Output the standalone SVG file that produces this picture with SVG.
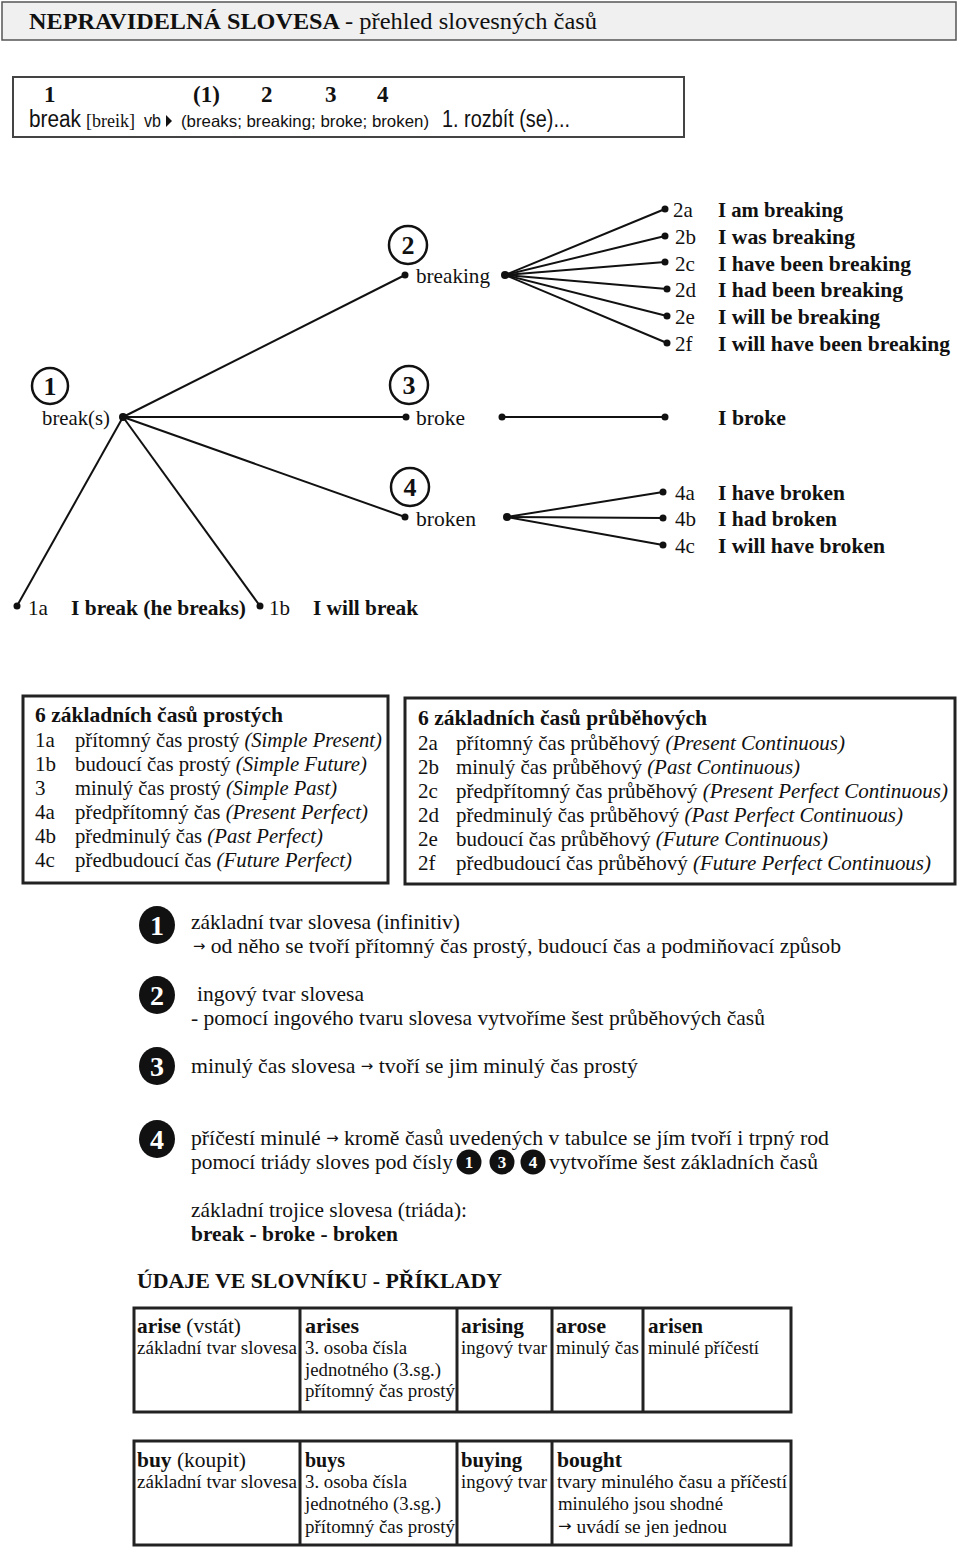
<svg xmlns="http://www.w3.org/2000/svg" width="960" height="1549" viewBox="0 0 960 1549">
<defs>
<style>
text{font-family:"Liberation Serif","Times New Roman",serif;fill:#111}
.sans{font-family:"Liberation Sans",Arial,sans-serif}
.ar{font-family:"DejaVu Sans",sans-serif;font-size:15px}
.b{font-weight:bold}
.i{font-style:italic}
.t20{font-size:21px}
.t22{font-size:22px}
.t21{font-size:21px}
.t17{font-size:18px}
.num{font-size:26px;font-weight:bold;text-anchor:middle}
.wnum{font-size:28px;font-weight:bold;text-anchor:middle;fill:#fff}
.snum{font-size:17px;font-weight:bold;text-anchor:middle;fill:#fff}
.ring{fill:#fff;stroke:#111;stroke-width:2.5}
.blk{fill:#111}
.ln{stroke:#111;stroke-width:2;fill:none}
.dot{fill:#111}
.box{fill:#fff;stroke:#222;stroke-width:3}
</style>
</defs>
<rect width="960" height="1549" fill="#fff"/>

<g id="title">
<rect x="2" y="2" width="954" height="38" fill="#f0f0f0" stroke="#555" stroke-width="1.5"/>
<text x="29" y="29" class="b" font-size="24" textLength="311" lengthAdjust="spacingAndGlyphs">NEPRAVIDELNÁ SLOVESA</text>
<text x="345" y="29" font-size="24" textLength="252" lengthAdjust="spacingAndGlyphs">- přehled slovesných časů</text>
</g>

<g id="dictionary-entry">
<rect x="13" y="77" width="671" height="60" fill="#fff" stroke="#444" stroke-width="2"/>
<text x="44" y="102" class="b" font-size="23">1</text>
<text x="193" y="102" class="b" font-size="23">(1)</text>
<text x="261" y="102" class="b" font-size="23">2</text>
<text x="325" y="102" class="b" font-size="23">3</text>
<text x="377" y="102" class="b" font-size="23">4</text>
<text x="29" y="127" class="sans" font-size="23" textLength="52" lengthAdjust="spacingAndGlyphs">break</text>
<text x="86" y="127" font-size="19" textLength="49" lengthAdjust="spacingAndGlyphs">[breik]</text>
<text x="144" y="127" class="sans" font-size="19" textLength="17" lengthAdjust="spacingAndGlyphs">vb</text>
<polygon points="166,115 172,121 166,127" fill="#111"/>
<text x="181" y="127" class="sans" font-size="16.5" textLength="248" lengthAdjust="spacingAndGlyphs">(breaks; breaking; broke; broken)</text>
<text x="442" y="127" class="sans" font-size="23" textLength="128" lengthAdjust="spacingAndGlyphs">1. rozbít (se)...</text>
</g>

<g id="connectors">
<line class="ln" x1="123" y1="417" x2="405" y2="275"/>
<line class="ln" x1="123" y1="417" x2="406" y2="417"/>
<line class="ln" x1="123" y1="417" x2="405" y2="517"/>
<line class="ln" x1="123" y1="417" x2="17" y2="606"/>
<line class="ln" x1="123" y1="417" x2="260" y2="606"/>
<line class="ln" x1="505" y1="275" x2="665" y2="209"/>
<line class="ln" x1="505" y1="275" x2="665" y2="236"/>
<line class="ln" x1="505" y1="275" x2="665" y2="262"/>
<line class="ln" x1="505" y1="275" x2="667" y2="289"/>
<line class="ln" x1="505" y1="275" x2="667" y2="316"/>
<line class="ln" x1="505" y1="275" x2="667" y2="343"/>
<line class="ln" x1="502" y1="417" x2="665" y2="417"/>
<line class="ln" x1="507" y1="517" x2="663" y2="492"/>
<line class="ln" x1="507" y1="517" x2="663" y2="518"/>
<line class="ln" x1="507" y1="517" x2="663" y2="545"/>
</g>

<g id="node-1">
<circle class="ring" cx="50" cy="386" r="18"/>
<text x="50" y="395" class="num">1</text>
<text x="42" y="425" class="t22" textLength="68" lengthAdjust="spacingAndGlyphs">break(s)</text>
<circle class="dot" cx="123" cy="417" r="4"/>
</g>
<g id="node-2">
<circle class="ring" cx="408" cy="245" r="19"/>
<text x="408" y="254" class="num">2</text>
<circle class="dot" cx="405" cy="275" r="3.5"/>
<text x="416" y="283" class="t22" textLength="74" lengthAdjust="spacingAndGlyphs">breaking</text>
<circle class="dot" cx="505" cy="275" r="4"/>
</g>
<g id="node-3">
<circle class="ring" cx="409" cy="385" r="19"/>
<text x="409" y="394" class="num">3</text>
<circle class="dot" cx="406" cy="417" r="3.5"/>
<text x="416" y="425" class="t22" textLength="49" lengthAdjust="spacingAndGlyphs">broke</text>
<circle class="dot" cx="502" cy="417" r="3.5"/>
</g>
<g id="node-4">
<ellipse class="ring" cx="410" cy="487" rx="19" ry="19"/>
<text x="410" y="496" class="num">4</text>
<circle class="dot" cx="405" cy="517" r="3.5"/>
<text x="416" y="526" class="t22" textLength="60" lengthAdjust="spacingAndGlyphs">broken</text>
<circle class="dot" cx="507" cy="517" r="4"/>
</g>

<g id="node-2-forms">
<circle class="dot" cx="665" cy="209" r="3.5"/>
<circle class="dot" cx="665" cy="236" r="3.5"/>
<circle class="dot" cx="665" cy="262" r="3.5"/>
<circle class="dot" cx="667" cy="289" r="3.5"/>
<circle class="dot" cx="667" cy="316" r="3.5"/>
<circle class="dot" cx="667" cy="343" r="3.5"/>
<text x="673" y="217" class="t21">2a</text>
<text x="675" y="244" class="t21">2b</text>
<text x="675" y="271" class="t21">2c</text>
<text x="675" y="297" class="t21">2d</text>
<text x="675" y="324" class="t21">2e</text>
<text x="675" y="351" class="t21">2f</text>
<text x="718" y="217" class="b t21" textLength="125" lengthAdjust="spacingAndGlyphs">I am breaking</text>
<text x="718" y="244" class="b t21" textLength="137" lengthAdjust="spacingAndGlyphs">I was breaking</text>
<text x="718" y="271" class="b t21" textLength="193" lengthAdjust="spacingAndGlyphs">I have been breaking</text>
<text x="718" y="297" class="b t21" textLength="185" lengthAdjust="spacingAndGlyphs">I had been breaking</text>
<text x="718" y="324" class="b t21" textLength="162" lengthAdjust="spacingAndGlyphs">I will be breaking</text>
<text x="718" y="351" class="b t21" textLength="232" lengthAdjust="spacingAndGlyphs">I will have been breaking</text>
</g>
<g id="node-3-forms">
<circle class="dot" cx="665" cy="417" r="3.5"/>
<text x="718" y="425" class="b t21" textLength="68" lengthAdjust="spacingAndGlyphs">I broke</text>
</g>
<g id="node-4-forms">
<circle class="dot" cx="663" cy="492" r="3.5"/>
<circle class="dot" cx="663" cy="518" r="3.5"/>
<circle class="dot" cx="663" cy="545" r="3.5"/>
<text x="675" y="500" class="t21">4a</text>
<text x="675" y="526" class="t21">4b</text>
<text x="675" y="553" class="t21">4c</text>
<text x="718" y="500" class="b t21" textLength="127" lengthAdjust="spacingAndGlyphs">I have broken</text>
<text x="718" y="526" class="b t21" textLength="119" lengthAdjust="spacingAndGlyphs">I had broken</text>
<text x="718" y="553" class="b t21" textLength="167" lengthAdjust="spacingAndGlyphs">I will have broken</text>
</g>
<g id="node-1-forms">
<circle class="dot" cx="17" cy="606" r="3.5"/>
<circle class="dot" cx="260" cy="606" r="3.5"/>
<text x="28" y="615" class="t21" textLength="20" lengthAdjust="spacingAndGlyphs">1a</text>
<text x="71" y="615" class="b t21" textLength="175" lengthAdjust="spacingAndGlyphs">I break (he breaks)</text>
<text x="269" y="615" class="t21" textLength="21" lengthAdjust="spacingAndGlyphs">1b</text>
<text x="313" y="615" class="b t21" textLength="105" lengthAdjust="spacingAndGlyphs">I will break</text>
</g>

<g id="simple-tenses">
<rect class="box" x="23" y="696" width="365" height="187"/>
<text x="35" y="722" class="b t20" textLength="248" lengthAdjust="spacingAndGlyphs">6 základních časů prostých</text>
<text x="35" y="747" class="t20">1a</text>
<text x="35" y="771" class="t20">1b</text>
<text x="35" y="795" class="t20">3</text>
<text x="35" y="819" class="t20">4a</text>
<text x="35" y="843" class="t20">4b</text>
<text x="35" y="867" class="t20">4c</text>
<text x="75" y="747" class="t20" textLength="307" lengthAdjust="spacingAndGlyphs">přítomný čas prostý <tspan class="i">(Simple Present)</tspan></text>
<text x="75" y="771" class="t20" textLength="292" lengthAdjust="spacingAndGlyphs">budoucí čas prostý <tspan class="i">(Simple Future)</tspan></text>
<text x="75" y="795" class="t20" textLength="262" lengthAdjust="spacingAndGlyphs">minulý čas prostý <tspan class="i">(Simple Past)</tspan></text>
<text x="75" y="819" class="t20" textLength="293" lengthAdjust="spacingAndGlyphs">předpřítomný čas <tspan class="i">(Present Perfect)</tspan></text>
<text x="75" y="843" class="t20" textLength="248" lengthAdjust="spacingAndGlyphs">předminulý čas <tspan class="i">(Past Perfect)</tspan></text>
<text x="75" y="867" class="t20" textLength="277" lengthAdjust="spacingAndGlyphs">předbudoucí čas <tspan class="i">(Future Perfect)</tspan></text>
</g>

<g id="continuous-tenses">
<rect class="box" x="405" y="698" width="550" height="186"/>
<text x="418" y="725" class="b t20" textLength="289" lengthAdjust="spacingAndGlyphs">6 základních časů průběhových</text>
<text x="418" y="750" class="t20">2a</text>
<text x="418" y="774" class="t20">2b</text>
<text x="418" y="798" class="t20">2c</text>
<text x="418" y="822" class="t20">2d</text>
<text x="418" y="846" class="t20">2e</text>
<text x="418" y="870" class="t20">2f</text>
<text x="456" y="750" class="t20" textLength="389" lengthAdjust="spacingAndGlyphs">přítomný čas průběhový <tspan class="i">(Present Continuous)</tspan></text>
<text x="456" y="774" class="t20" textLength="344" lengthAdjust="spacingAndGlyphs">minulý čas průběhový <tspan class="i">(Past Continuous)</tspan></text>
<text x="456" y="798" class="t20" textLength="492" lengthAdjust="spacingAndGlyphs">předpřítomný čas průběhový <tspan class="i">(Present Perfect Continuous)</tspan></text>
<text x="456" y="822" class="t20" textLength="447" lengthAdjust="spacingAndGlyphs">předminulý čas průběhový <tspan class="i">(Past Perfect Continuous)</tspan></text>
<text x="456" y="846" class="t20" textLength="372" lengthAdjust="spacingAndGlyphs">budoucí čas průběhový <tspan class="i">(Future Continuous)</tspan></text>
<text x="456" y="870" class="t20" textLength="475" lengthAdjust="spacingAndGlyphs">předbudoucí čas průběhový <tspan class="i">(Future Perfect Continuous)</tspan></text>
</g>

<g id="legend-1">
<ellipse class="blk" cx="157" cy="925" rx="18" ry="19"/>
<text x="157" y="935" class="wnum">1</text>
<text x="191" y="929" class="t22" textLength="269" lengthAdjust="spacingAndGlyphs">základní tvar slovesa (infinitiv)</text>
<text x="193" y="953" class="t22" textLength="648" lengthAdjust="spacingAndGlyphs"><tspan class="ar" dy="-2">→</tspan><tspan dy="2"> od něho se tvoří přítomný čas prostý, budoucí čas a podmiňovací způsob</tspan></text>
</g>
<g id="legend-2">
<ellipse class="blk" cx="157" cy="995" rx="18" ry="19"/>
<text x="157" y="1005" class="wnum">2</text>
<text x="197" y="1001" class="t22" textLength="167" lengthAdjust="spacingAndGlyphs">ingový tvar slovesa</text>
<text x="191" y="1025" class="t22" textLength="574" lengthAdjust="spacingAndGlyphs">- pomocí ingového tvaru slovesa vytvoříme šest průběhových časů</text>
</g>
<g id="legend-3">
<ellipse class="blk" cx="157" cy="1066" rx="18" ry="19"/>
<text x="157" y="1076" class="wnum">3</text>
<text x="191" y="1073" class="t22" textLength="447" lengthAdjust="spacingAndGlyphs">minulý čas slovesa <tspan class="ar" dy="-2">→</tspan><tspan dy="2"> tvoří se jim minulý čas prostý</tspan></text>
</g>
<g id="legend-4">
<ellipse class="blk" cx="157" cy="1139" rx="18" ry="19"/>
<text x="157" y="1149" class="wnum">4</text>
<text x="191" y="1145" class="t22" textLength="638" lengthAdjust="spacingAndGlyphs">příčestí minulé <tspan class="ar" dy="-2">→</tspan><tspan dy="2"> kromě časů uvedených v tabulce se jím tvoří i trpný rod</tspan></text>
<text x="191" y="1169" class="t22" textLength="262" lengthAdjust="spacingAndGlyphs">pomocí triády sloves pod čísly</text>
<circle class="blk" cx="469" cy="1162" r="12.5"/>
<text x="469" y="1168" class="snum">1</text>
<circle class="blk" cx="502" cy="1162" r="12.5"/>
<text x="502" y="1168" class="snum">3</text>
<circle class="blk" cx="533" cy="1162" r="12.5"/>
<text x="533" y="1168" class="snum">4</text>
<text x="549" y="1169" class="t22" textLength="269" lengthAdjust="spacingAndGlyphs">vytvoříme šest základních časů</text>
<text x="191" y="1217" class="t22" textLength="276" lengthAdjust="spacingAndGlyphs">základní trojice slovesa (triáda):</text>
<text x="191" y="1241" class="b t22" textLength="207" lengthAdjust="spacingAndGlyphs">break - broke - broken</text>
</g>

<g id="dictionary-examples">
<text x="137" y="1288" class="b t22" textLength="365" lengthAdjust="spacingAndGlyphs">ÚDAJE VE SLOVNÍKU  - PŘÍKLADY</text>
</g>

<g id="table-arise">
<rect class="box" x="134" y="1308" width="657" height="104"/>
<line stroke="#222" stroke-width="3" x1="300" y1="1308" x2="300" y2="1412"/>
<line stroke="#222" stroke-width="3" x1="457" y1="1308" x2="457" y2="1412"/>
<line stroke="#222" stroke-width="3" x1="552" y1="1308" x2="552" y2="1412"/>
<line stroke="#222" stroke-width="3" x1="643" y1="1308" x2="643" y2="1412"/>
<text x="137" y="1333" class="t20" textLength="104" lengthAdjust="spacingAndGlyphs"><tspan class="b">arise</tspan> (vstát)</text>
<text x="137" y="1354" class="t17" textLength="160" lengthAdjust="spacingAndGlyphs">základní tvar slovesa</text>
<text x="305" y="1333" class="b t20" textLength="54" lengthAdjust="spacingAndGlyphs">arises</text>
<text x="305" y="1354" class="t17" textLength="102" lengthAdjust="spacingAndGlyphs">3. osoba čísla</text>
<text x="305" y="1376" class="t17" textLength="136" lengthAdjust="spacingAndGlyphs">jednotného (3.sg.)</text>
<text x="305" y="1397" class="t17" textLength="150" lengthAdjust="spacingAndGlyphs">přítomný čas prostý</text>
<text x="461" y="1333" class="b t20" textLength="63" lengthAdjust="spacingAndGlyphs">arising</text>
<text x="461" y="1354" class="t17" textLength="86" lengthAdjust="spacingAndGlyphs">ingový tvar</text>
<text x="556" y="1333" class="b t20" textLength="50" lengthAdjust="spacingAndGlyphs">arose</text>
<text x="556" y="1354" class="t17" textLength="83" lengthAdjust="spacingAndGlyphs">minulý čas</text>
<text x="648" y="1333" class="b t20" textLength="55" lengthAdjust="spacingAndGlyphs">arisen</text>
<text x="648" y="1354" class="t17" textLength="111" lengthAdjust="spacingAndGlyphs">minulé příčestí</text>
</g>

<g id="table-buy">
<rect class="box" x="134" y="1441" width="657" height="104"/>
<line stroke="#222" stroke-width="3" x1="300" y1="1441" x2="300" y2="1545"/>
<line stroke="#222" stroke-width="3" x1="457" y1="1441" x2="457" y2="1545"/>
<line stroke="#222" stroke-width="3" x1="552" y1="1441" x2="552" y2="1545"/>
<text x="137" y="1467" class="t20" textLength="109" lengthAdjust="spacingAndGlyphs"><tspan class="b">buy</tspan> (koupit)</text>
<text x="137" y="1488" class="t17" textLength="160" lengthAdjust="spacingAndGlyphs">základní tvar slovesa</text>
<text x="305" y="1467" class="b t20" textLength="40" lengthAdjust="spacingAndGlyphs">buys</text>
<text x="305" y="1488" class="t17" textLength="102" lengthAdjust="spacingAndGlyphs">3. osoba čísla</text>
<text x="305" y="1510" class="t17" textLength="136" lengthAdjust="spacingAndGlyphs">jednotného (3.sg.)</text>
<text x="305" y="1533" class="t17" textLength="150" lengthAdjust="spacingAndGlyphs">přítomný čas prostý</text>
<text x="461" y="1467" class="b t20" textLength="61" lengthAdjust="spacingAndGlyphs">buying</text>
<text x="461" y="1488" class="t17" textLength="86" lengthAdjust="spacingAndGlyphs">ingový tvar</text>
<text x="557" y="1467" class="b t20" textLength="65" lengthAdjust="spacingAndGlyphs">bought</text>
<text x="557" y="1488" class="t17" textLength="230" lengthAdjust="spacingAndGlyphs">tvary  minulého času a příčestí</text>
<text x="558" y="1510" class="t17" textLength="165" lengthAdjust="spacingAndGlyphs">minulého jsou shodné</text>
<text x="558" y="1533" class="t17" textLength="169" lengthAdjust="spacingAndGlyphs"><tspan class="ar" dy="-2">→</tspan><tspan dy="2"> uvádí se jen jednou</tspan></text>
</g>
</svg>
